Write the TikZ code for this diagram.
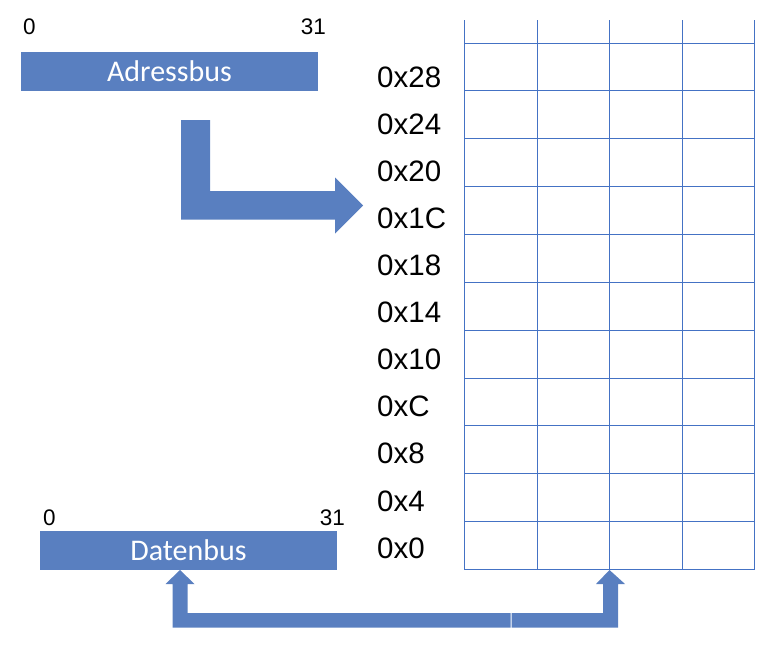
\documentclass[tikz,border=0pt]{standalone}
\usepackage{fontspec}
\setmainfont{Liberation Sans}
\newfontfamily\calibri{Carlito}
\definecolor{busblue}{RGB}{89,127,192}
\definecolor{gridblue}{RGB}{68,114,196}
\begin{document}
\begin{tikzpicture}[x=1pt,y=-1pt,
  busbox/.style={fill=busblue, draw=none, inner sep=0pt, minimum width=297pt, minimum height=39pt,
                 text=white, font=\calibri\fontsize{30}{30}\selectfont},
  hexlab/.style={anchor=west, inner sep=0pt, font=\fontsize{29.5}{29.5}\selectfont},
  bitlab/.style={inner sep=0pt, font=\fontsize{22.5}{22.5}\selectfont},
  gridline/.style={draw=gridblue, line width=1pt},
  blockarrow/.style={fill=busblue, draw=none}]
\useasboundingbox (0,0) rectangle (770,645);

% bus boxes
\node[busbox] (abus) at (169.5,71.5) {Adressbus};
\node[busbox] (dbus) at (188.5,550.5) {Datenbus};

% bit labels
\node[bitlab, anchor=base west] (a0) at (23,34.5) {0};
\node[bitlab, anchor=base east] (a31) at (326,34.5) {31};
\node[bitlab, anchor=base west] (d0) at (43,525) {0};
\node[bitlab, anchor=base east] (d31) at (345,525) {31};

% memory grid
\foreach \k in {0,...,11} {
  \draw[gridline] (464,{43+\k*47.86}) -- (754.5,{43+\k*47.86});
}
\foreach \x in {464,537,609.5,682,754.5} {
  \draw[gridline] (\x,20) -- (\x,570);
}
\coordinate (g) at (609.5,570);

% address labels
\foreach [count=\i from 0] \t in {0x28,0x24,0x20,0x1C,0x18,0x14,0x10,0xC,0x8,0x4,0x0} {
  \node[hexlab] (h\i) at (377,{77+\i*47.1}) {\t};
}

% address arrow (L-shaped block arrow)
\fill[blockarrow] (181,120) -- (210,120) -- (210,191) -- (335,191) -- (335,177.5)
  -- (363,205.5) -- (335,233.5) -- (335,219.5) -- (181,219.5) -- cycle;

% data arrow (U-shaped double block arrow, two parts)
\fill[blockarrow] (510.5,613) -- (187.5,613) -- (187.5,584) -- (194.5,584) -- (180,570)
  -- (165.5,584) -- (172.5,584) -- (172.5,627.5) -- (510.5,627.5) -- cycle;
\fill[blockarrow] (511.7,613) -- (603,613) -- (603,584) -- (596,584) -- (g)
  -- (625,584) -- (618,584) -- (618,627.5) -- (511.7,627.5) -- cycle;
\end{tikzpicture}
\end{document}
